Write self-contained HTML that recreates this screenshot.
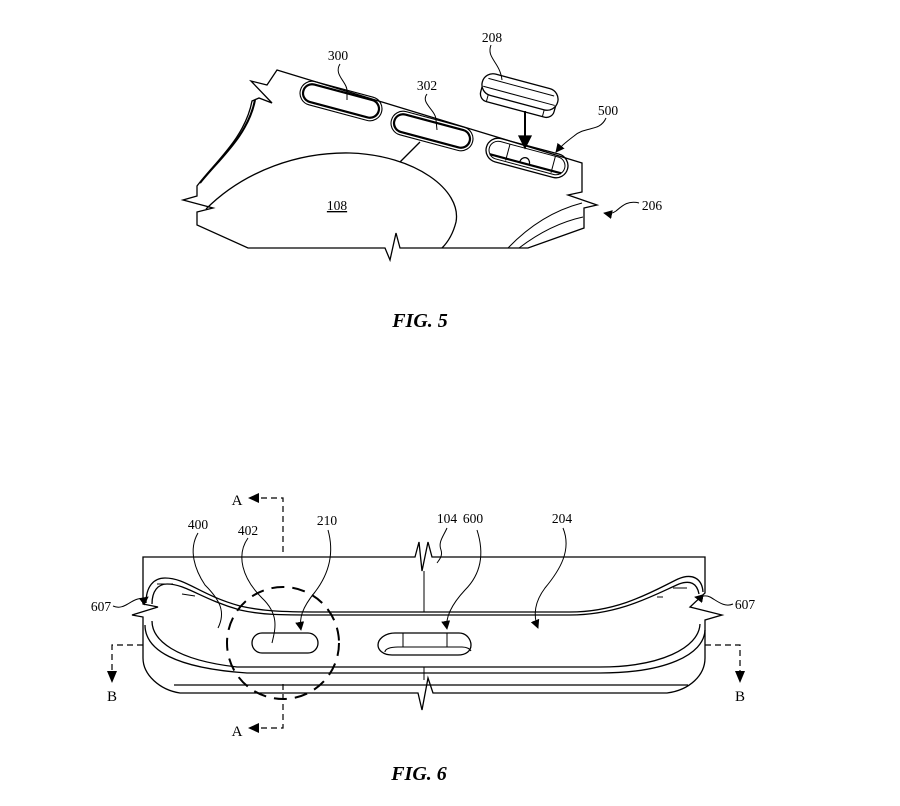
<!DOCTYPE html>
<html><head><meta charset="utf-8"><style>
html,body{margin:0;padding:0;background:#fff;}
svg{display:block;}
text{font-family:"Liberation Serif",serif;fill:#000;}
</style></head><body>
<svg width="900" height="806" viewBox="0 0 900 806" xmlns="http://www.w3.org/2000/svg">
<defs>
<marker id="ah" viewBox="0 0 10 10" refX="9" refY="5" markerWidth="9" markerHeight="9" orient="auto" markerUnits="userSpaceOnUse"><path d="M0,0 L10,5 L0,10 Z" fill="#000"/></marker>
</defs>
<rect width="900" height="806" fill="#fff"/>
<g fill="none" stroke="#000" stroke-width="1.3" stroke-linejoin="miter">
<!-- FIG 5 outline -->
<path fill="#fff" d="M277,70 L582,163 L582,192 L568,195 L597,205 L584,208 L584,228 L528,248 L400,248 L396,233 L390,260 L385,248 L248,248 L197,225 L197,212 L213,208 L183,200 L197,196 L197,186 C215,162 245,138 252,101 L259,98 L272,103 L251,81 L267,85 Z"/>
<path d="M200,183 C218,160 248,136 255,100" stroke-width="2"/>
<!-- dome 108 -->
<path d="M206,209 C245,170 300,152 350,153 C415,155 462,190 456,222 Q452,238 442,248"/>
<path d="M400,162 L420,142"/>
<!-- lower right curves -->
<path d="M508,248 C530,225 555,210 582,203" stroke-width="1"/>
<path d="M519,248 C540,232 560,222 583,217" stroke-width="1"/>
<!-- slots -->
<g transform="translate(341,101) rotate(15)">
<rect x="-42" y="-12" width="84" height="24" rx="12" stroke-width="1.1"/>
<rect x="-39" y="-9" width="78" height="18" rx="9" stroke-width="2.2"/>
</g>
<g transform="translate(432,131) rotate(15)">
<rect x="-42" y="-12" width="84" height="24" rx="12" stroke-width="1.1"/>
<rect x="-39" y="-9" width="78" height="18" rx="9" stroke-width="2.2"/>
</g>
<g transform="translate(527,158) rotate(15)">
<rect x="-42" y="-12" width="84" height="24" rx="12" stroke-width="1.3"/>
<rect x="-39" y="-9" width="78" height="18" rx="9" stroke-width="1"/>
<path d="M-37,6 L37,6" stroke-width="2.2"/>
<line x1="-20" y1="-9" x2="-20" y2="8" stroke-width="1"/>
<line x1="27" y1="-9" x2="27" y2="8" stroke-width="1"/>
<path d="M-6,6 A5,6 0 0 1 4,6" stroke-width="1.2"/>
</g>
<!-- button 208 -->
<g transform="translate(520,92) rotate(15)">
<rect x="-38" y="-3" width="76" height="21" rx="8" fill="#fff" stroke-width="1.3"/>
<rect x="-39" y="-11" width="78" height="22" rx="11" fill="#fff" stroke-width="1.3"/>
<path d="M-34,-5 L34,-5" stroke-width="1"/>
<path d="M-37,4 L37,4" stroke-width="1"/>
<line x1="-30" y1="11" x2="-30" y2="18" stroke-width="1"/>
<line x1="28" y1="11" x2="28" y2="18" stroke-width="1"/>
</g>
<path d="M525,111 L525,138" stroke-width="2"/>
<path d="M519,136 L531,136 L525,148 Z" fill="#000"/>
<!-- leaders fig5 -->
<g stroke-width="1">
<path d="M340,64 C333,75 348,82 347,92 L347,100"/>
<path d="M427,94 C420,103 436,110 436,120 L437,130"/>
<path d="M491,45 C486,58 500,62 502,80"/>
<path d="M606,118 C600,132 585,126 574,136 C566,142 560,147 556,152" marker-end="url(#ah)"/>
<path d="M639,203 C628,200 622,206 616,211 C612,214 609,214 604,213" marker-end="url(#ah)"/>
</g>

<!-- FIG 6 outline -->
<path fill="#fff" d="M143,557 L415,557 L419,542 L422,571 L428,542 L432,557 L705,557 L705,593 L690,607 L722,615 L705,620 L705,658 C705,675 690,690 667,693 L433,693 L428,678 L422,710 L418,693 L180,693 C160,690 143,675 143,658 L143,617 L132,615 L158,607 L143,604 Z"/>
<line x1="424" y1="571" x2="424" y2="612" stroke-width="1"/>
<line x1="424" y1="667" x2="424" y2="680" stroke-width="1"/>
<!-- tongue upper lines -->
<path d="M146,603 C146,586 154,578 165,578 C186,578 200,595 240,606 C262,611 280,612 320,612 L570,612 C620,612 655,590 678,579 C692,573 702,578 703,592"/>
<path d="M152,604 C152,591 158,584 167,584 C186,584 201,599 240,610 C262,615 280,615 320,615 L570,615 C620,615 656,594 679,584 C690,580 697,583 699,594"/>
<!-- tongue lower lines -->
<path d="M152,621 C152,640 175,660 237,667 L600,667 C660,667 699,648 700,624"/>
<path d="M145,625 C145,650 175,668 247,673 L600,673 C665,673 704,655 705,630"/>
<path d="M174,685 L688,685"/>
<!-- small dashes -->
<path d="M157,584 L173,584 M182,594 L195,596 M673,588 L687,588 M657,597 L663,597" stroke-width="1"/>
<!-- slot 402 -->
<rect x="252" y="633" width="66" height="20" rx="10"/>
<!-- slot 600 -->
<path d="M395,633 L459,633 C467,633 471,640 471,645 C471,651 466,655 458,655 L392,655 C383,655 378,650 378,645 C378,639 385,633 395,633 Z"/>
<path d="M385,652 C385,649 390,647 398,647 L462,647 C467,647 470,649 471,651" stroke-width="1.1"/>
<line x1="403" y1="633" x2="403" y2="647" stroke-width="1"/>
<line x1="447" y1="633" x2="447" y2="647" stroke-width="1"/>
<!-- dashed circle -->
<circle cx="283" cy="643" r="56" stroke-width="2" stroke-dasharray="13 8"/>
<!-- section lines -->
<g stroke-width="1.2" stroke-dasharray="6 4">
<path d="M283,552 L283,498 L258,498"/>
<path d="M283,684 L283,728 L258,728"/>
<path d="M143,645 L112,645 L112,672"/>
<path d="M705,645 L740,645 L740,672"/>
</g>
<path d="M248,498 L259,493 L259,503 Z M248,728 L259,723 L259,733 Z M112,683 L107,671 L117,671 Z M740,683 L735,671 L745,671 Z" fill="#000" stroke="none"/>
<!-- leaders fig6 -->
<g stroke-width="1">
<path d="M198,533 C188,550 195,570 205,585 C220,600 226,612 218,628"/>
<path d="M248,538 C236,555 242,578 262,598 C280,615 275,630 272,643"/>
<path d="M328,530 C335,555 328,575 315,592 C302,608 299,618 301,630" marker-end="url(#ah)"/>
<path d="M447,528 C443,537 438,542 441,550 C443,556 439,560 437,563"/>
<path d="M477,530 C485,555 480,575 465,590 C452,604 445,617 447,629" marker-end="url(#ah)"/>
<path d="M563,528 C572,550 560,570 545,588 C533,604 534,618 538,628" marker-end="url(#ah)"/>
<path d="M113,606 C122,610 128,603 135,600 C141,597 144,600 148,597" marker-end="url(#ah)"/>
<path d="M733,604 C724,608 716,600 710,597 C704,594 700,598 695,597" marker-end="url(#ah)"/>
</g>
</g>

<!-- labels -->
<g font-size="13.5" text-anchor="middle">
<text x="492" y="42">208</text>
<text x="338" y="60">300</text>
<text x="427" y="90">302</text>
<text x="608" y="115">500</text>
<text x="652" y="210">206</text>
<text x="337" y="210" text-decoration="underline">108</text>
<text x="198" y="529">400</text>
<text x="248" y="535">402</text>
<text x="327" y="525">210</text>
<text x="447" y="523">104</text>
<text x="473" y="523">600</text>
<text x="562" y="523">204</text>
<text x="101" y="611">607</text>
<text x="745" y="609">607</text>
</g>
<g font-size="15" text-anchor="middle">
<text x="237" y="505">A</text>
<text x="237" y="736">A</text>
<text x="112" y="701">B</text>
<text x="740" y="701">B</text>
</g>
<g font-size="20" font-weight="bold" font-style="italic" text-anchor="middle">
<text x="420" y="327">FIG. 5</text>
<text x="419" y="780">FIG. 6</text>
</g>
</svg>
</body></html>
